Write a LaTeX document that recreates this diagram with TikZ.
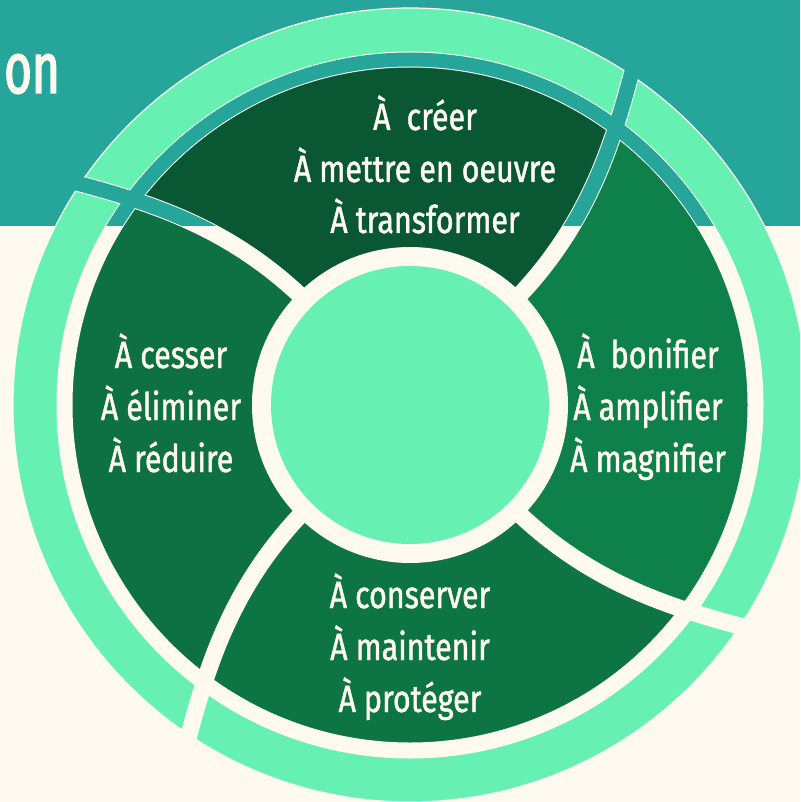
\documentclass[tikz,border=0pt]{standalone}
\usepackage{fontspec}
\setmainfont{Fira Sans}[FakeStretch=0.8, FakeBold=1.2]
\newfontfamily\titlefont{Fira Sans}[FakeStretch=0.66, FakeBold=2]
\definecolor{bgteal}{HTML}{26A69A}
\definecolor{cream}{HTML}{FEFAF0}
\definecolor{lgreen}{HTML}{66F1B3}
\definecolor{segtop}{HTML}{0A5733}
\definecolor{segleft}{HTML}{0D7143}
\definecolor{segright}{HTML}{0E814A}
\definecolor{segbot}{HTML}{0D7443}
\tikzset{
  lbl/.style={text=cream, font=\fontsize{38}{46}\selectfont, anchor=base, inner sep=0pt},
  divcream/.style={draw=cream, line width=17pt},
  divteal/.style={draw=bgteal, line width=15pt},
}
\def\curUR{(100,-100) .. controls (177.8,-177.8) and (202.2,-259.4) .. (223,-337)}
\def\curLR{(100,100) .. controls (177.8,177.8) and (259.4,202.2) .. (337,223)}
\def\curLL{(-100,100) .. controls (-177.8,177.8) and (-202.2,259.4) .. (-223,337)}
\def\curUL{(-100,-100) .. controls (-177.8,-177.8) and (-259.4,-202.2) .. (-337,-223)}
\begin{document}
\begin{tikzpicture}[x=1pt,y=-1pt]
\useasboundingbox (0,0) rectangle (800,802);
\clip (0,0) rectangle (800,802);
\fill[cream] (0,0) rectangle (800,802);
\fill[bgteal] (0,0) rectangle (800,226);
\node[text=cream, font=\titlefont\fontsize{72}{80}\selectfont, anchor=base west, inner sep=0pt] (title) at (4,93) {on};
\begin{scope}[shift={(410,405)}]
  % outer ring
  \fill[lgreen, even odd rule] (0,0) circle (397pt) (0,0) circle (352.5pt);
  \draw[cream, line width=1.2pt] (0,0) circle (397pt);
  % segments
  \begin{scope}
    \clip (0,0) circle (338.5pt);
    \fill[segtop] (0,0) -- \curUL -- (0,-650) -- (223,-337) .. controls (202.2,-259.4) and (177.8,-177.8) .. (100,-100) -- cycle;
    \fill[segright] (0,0) -- \curUR -- (650,0) -- (337,223) .. controls (259.4,202.2) and (177.8,177.8) .. (100,100) -- cycle;
    \fill[segbot] (0,0) -- \curLR -- (0,650) -- (-223,337) .. controls (-202.2,259.4) and (-177.8,177.8) .. (-100,100) -- cycle;
    \fill[segleft] (0,0) -- \curLL -- (-650,0) -- (-337,-223) .. controls (-259.4,-202.2) and (-177.8,-177.8) .. (-100,-100) -- cycle;
  \end{scope}
  % cream gaps
  \draw[cream, line width=16pt] (0,0) circle (345.5pt);
  \begin{scope}
    \clip (0,0) circle (397.6pt);
    \path[divcream] \curUR;
    \path[divcream] \curLR;
    \path[divcream] \curLL;
    \path[divcream] \curUL;
  \end{scope}
  % teal gaps in the top band
  \begin{scope}
    \clip (-500,-600) rectangle (500,-179);
    \draw[bgteal, line width=14pt] (0,0) circle (345.5pt);
    \path[divteal] \curUR;
    \path[divteal] \curUL;
  \end{scope}
  % centre
  \fill[cream] (0,0) circle (158pt);
  \fill[lgreen] (0,0) circle (139pt);
\end{scope}
% texts
\node[lbl] (t1) at (425,130) {À\ \ créer};
\node[lbl] (t2) at (425,182) {À mettre en oeuvre};
\node[lbl] (t3) at (425,233) {À transformer};
\node[lbl] (l1) at (171,368) {À cesser};
\node[lbl] (l2) at (171,420) {À éliminer};
\node[lbl] (l3) at (171,472) {À réduire};
\node[lbl] (r1) at (648,368) {À\ \ bonifier};
\node[lbl] (r2) at (648,420) {À amplifier};
\node[lbl] (r3) at (648,472) {À magnifier};
\node[lbl] (b1) at (410,608) {À conserver};
\node[lbl] (b2) at (410,660) {À maintenir};
\node[lbl] (b3) at (410,712) {À protéger};
\end{tikzpicture}
\end{document}
